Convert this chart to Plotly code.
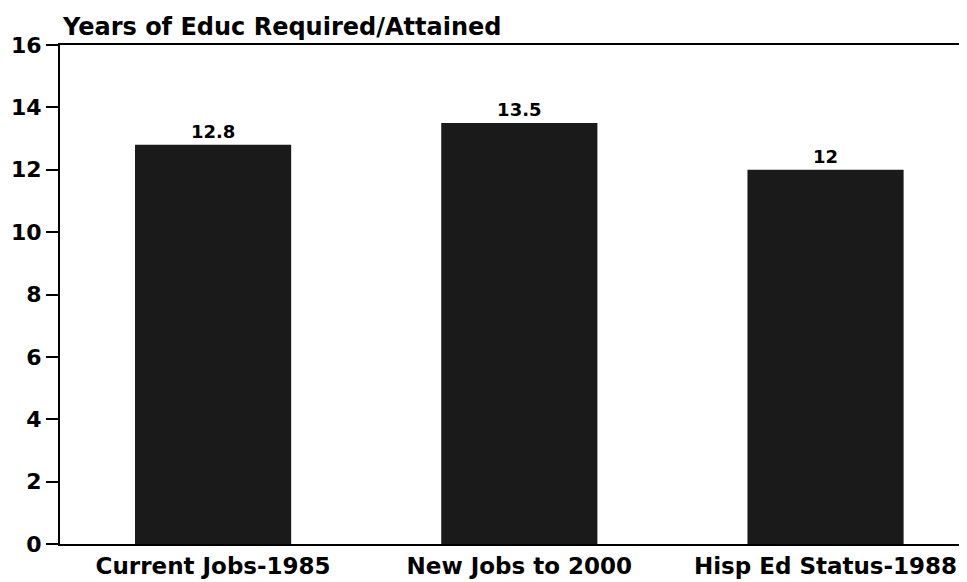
import plotly.graph_objects as go

categories = ["Current Jobs-1985", "New Jobs to 2000", "Hisp Ed Status-1988"]
years = [12.8, 13.5, 12]
bar_labels = ["12.8", "13.5", "12"]
y_ticks = [0, 2, 4, 6, 8, 10, 12, 14, 16]

FONT = "DejaVu Sans"

fig = go.Figure()
fig.add_trace(go.Bar(
    x=categories,
    y=years,
    text=bar_labels,
    textposition="outside",
    textfont=dict(family=FONT, size=18, color="black", weight="bold"),
    marker=dict(color="#1a1a1a", line=dict(width=0)),
    width=0.51,
    cliponaxis=False,
))

# page body has an 8px margin, so the figure is sized/offset to compensate
fig.update_layout(
    width=959, height=574,
    margin=dict(l=52, r=0, t=37, b=38, autoexpand=False),
    paper_bgcolor="white", plot_bgcolor="white",
    showlegend=False,
    font=dict(family=FONT, color="black"),
    annotations=[dict(
        text="Years of Educ Required/Attained",
        xref="paper", yref="paper", x=0, y=1, xanchor="left", yanchor="bottom",
        yshift=2, showarrow=False,
        font=dict(family=FONT, size=24, color="black", weight="bold"),
    )],
)
fig.update_xaxes(
    range=[-0.5, 2.462], automargin=False,
    showline=True, linecolor="black", linewidth=2, mirror=True,
    ticks="", showgrid=False,
    tickfont=dict(family=FONT, size=23, color="black", weight="bold"),
)
fig.update_yaxes(
    range=[0, 16], tickvals=y_ticks, automargin=False,
    showline=True, linecolor="black", linewidth=2,
    ticks="outside", ticklen=12, tickwidth=2, tickcolor="black",
    showgrid=False, zeroline=False,
    tickfont=dict(family=FONT, size=22, color="black", weight="bold"),
)

fig.write_html("out.html")
